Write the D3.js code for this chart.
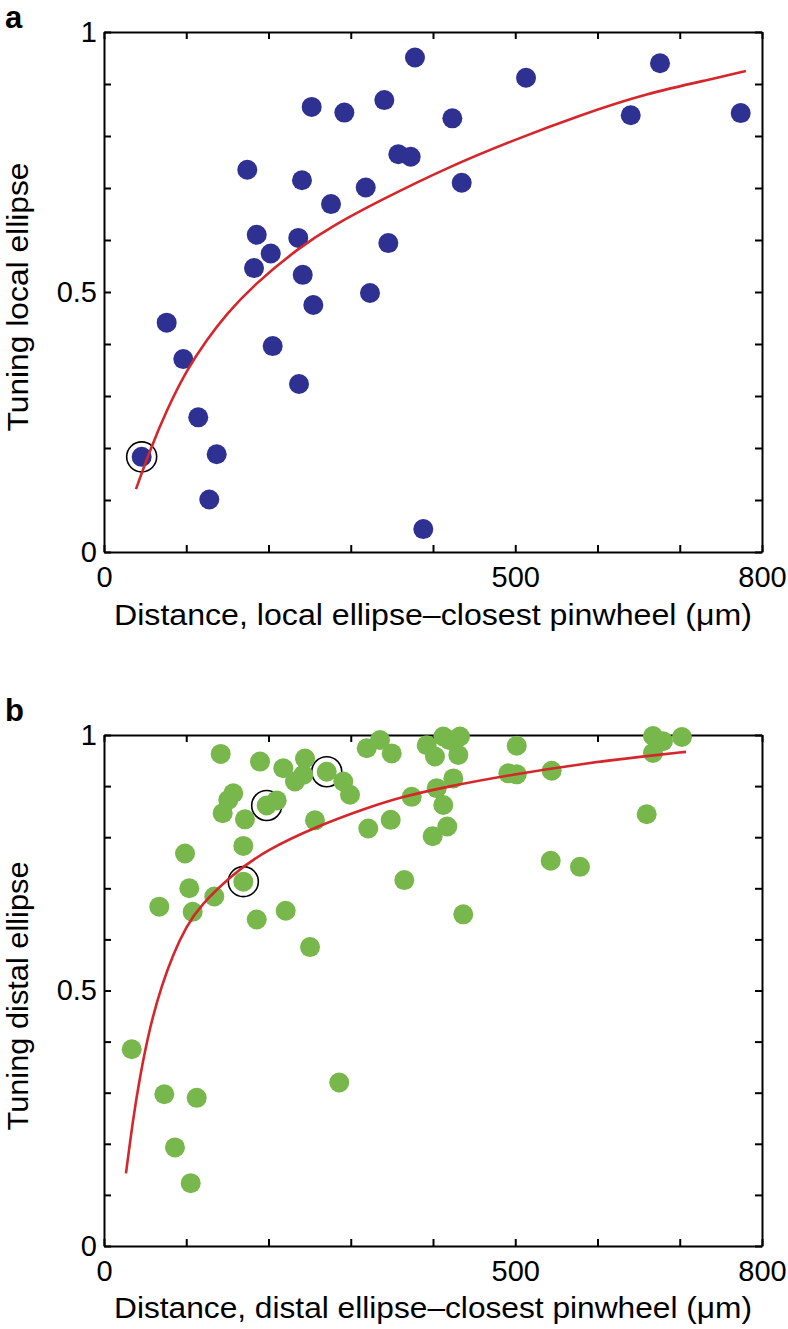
<!DOCTYPE html>
<html>
<head>
<meta charset="utf-8">
<title>Tuning vs distance to closest pinwheel</title>
<script src="https://d3js.org/d3.v7.min.js"></script>
<style>
  body { margin: 0; background: #fff; }
  text { font-family: "Liberation Sans", Arial, Helvetica, sans-serif; fill: #000; }
</style>
</head>
<body>
<script>
// panel a: local ellipse
const aDist = [45.8, 76.2, 96.4, 114.6, 137.0, 128.0, 205.1, 237.1, 252.5, 292.2, 340.8,
  357.8, 372.9, 174.2, 240.7, 318.2, 276.0, 185.7, 236.2, 202.7, 345.7, 182.4, 241.6,
  323.4, 254.5, 378.1, 513.1, 676.0, 423.5, 640.4, 774.1, 434.9, 388.2];
const aTune = [0.183, 0.441, 0.371, 0.259, 0.188, 0.101, 0.396, 0.323, 0.856, 0.845, 0.869,
  0.765, 0.760, 0.735, 0.715, 0.701, 0.669, 0.610, 0.604, 0.574, 0.594, 0.546, 0.533,
  0.498, 0.475, 0.951, 0.912, 0.940, 0.834, 0.840, 0.844, 0.710, 0.044];
const aCircled = [0];
const aFitDist = [38.9, 55.9, 76.2, 100.5, 124.9, 149.2, 181.5, 238.3, 278.8, 335.6,
  416.7, 497.6, 578.7, 659.8, 740.8, 780.5];
const aFitTune = [0.121, 0.196, 0.273, 0.350, 0.408, 0.458, 0.513, 0.587, 0.628, 0.676,
  0.739, 0.792, 0.840, 0.882, 0.910, 0.925];

// panel b: distal ellipse
const bDist = [33.7, 73.3, 112.7, 86.3, 105.4, 286.0, 67.2, 98.5, 103.7, 107.8, 134.1, 169.4,
  169.4, 185.7, 220.9, 250.5, 141.9, 189.7, 218.0, 244.4, 232.2, 242.3, 270.8, 290.9, 299.1,
  319.4, 157.2, 151.1, 144.3, 171.4, 197.8, 210.0, 256.5, 321.3, 335.6, 349.8, 392.3, 412.5,
  432.8, 402.4, 430.8, 501.8, 424.7, 404.5, 374.1, 412.5, 491.6, 501.8, 544.3, 348.6, 417.4,
  399.6, 365.1, 436.8, 543.1, 578.7, 659.8, 667.5, 679.6, 702.7, 667.5, 420.0];
const bTune = [0.385, 0.297, 0.290, 0.193, 0.123, 0.320, 0.664, 0.768, 0.700, 0.654, 0.684, 0.713,
  0.783, 0.639, 0.656, 0.585, 0.963, 0.948, 0.935, 0.954, 0.909, 0.922, 0.928, 0.909, 0.883,
  0.974, 0.886, 0.873, 0.847, 0.835, 0.862, 0.872, 0.833, 0.817, 0.990, 0.964, 0.980, 0.997,
  0.997, 0.958, 0.961, 0.979, 0.915, 0.896, 0.879, 0.863, 0.925, 0.923, 0.930, 0.834, 0.821,
  0.802, 0.716, 0.649, 0.754, 0.742, 0.845, 0.998, 0.988, 0.996, 0.965, 0.990];
const bCircled = [11, 30, 22];
const bFitDist = [26.7, 35.0, 43.8, 55.9, 70.2, 84.3, 100.0, 116.7, 157.2, 197.8, 258.6, 319.4,
  359.9, 416.7, 497.6, 578.7, 659.8, 707.6];
const bFitTune = [0.142, 0.245, 0.333, 0.430, 0.510, 0.572, 0.625, 0.666, 0.729, 0.775, 0.821,
  0.857, 0.878, 0.899, 0.923, 0.943, 0.959, 0.967];

const xTicks = [0, 100, 200, 300, 400, 500, 600, 700, 800];
const xLabels = [0, 500, 800];
const yTicks = [0, 0.1, 0.2, 0.3, 0.4, 0.5, 0.6, 0.7, 0.8, 0.9, 1];
const yLabels = [0, 0.5, 1];

const W = 788, H = 1329;
const svg = d3.select("body").append("svg")
  .attr("width", W)
  .attr("height", H);

svg.append("rect").attr("width", W).attr("height", H).attr("fill", "#fff");

function panel(opt) {
  const x = d3.scaleLinear().domain([0, 800]).range([104, 762]);
  const y = d3.scaleLinear().domain([0, 1]).range([opt.bottom, opt.top]);
  const g = svg.append("g");

  const fmtX = d => xLabels.includes(d) ? d : "";
  const fmtY = d => yLabels.includes(d) ? d3.format("~g")(d) : "";

  g.append("g")
    .attr("transform", "translate(0," + opt.bottom + ")")
    .call(d3.axisBottom(x).tickValues(xTicks).tickSizeInner(-7).tickSizeOuter(0)
      .tickPadding(14).tickFormat(fmtX));
  g.append("g")
    .attr("transform", "translate(0," + opt.top + ")")
    .call(d3.axisTop(x).tickValues(xTicks).tickSizeInner(-7).tickSizeOuter(0).tickFormat(""));
  g.append("g")
    .attr("transform", "translate(104,0)")
    .call(d3.axisLeft(y).tickValues(yTicks).tickSizeInner(-7).tickSizeOuter(0)
      .tickPadding(7).tickFormat(fmtY));
  g.append("g")
    .attr("transform", "translate(762,0)")
    .call(d3.axisRight(y).tickValues(yTicks).tickSizeInner(-7).tickSizeOuter(0).tickFormat(""));

  g.selectAll(".domain").attr("stroke", "#000").attr("stroke-width", 2);
  g.selectAll(".tick line").attr("stroke", "#000").attr("stroke-width", 2);
  g.selectAll(".tick text")
    .style("font-family", "'Liberation Sans', Arial, sans-serif")
    .style("font-size", "29px")
    .attr("fill", "#000");

  // panel letter and axis titles
  svg.append("text")
    .attr("x", 5)
    .attr("y", opt.letterY)
    .style("font-size", "31px")
    .style("font-weight", "bold")
    .text(opt.letter);

  svg.append("text")
    .attr("x", 433)
    .attr("y", opt.xTitleY)
    .attr("text-anchor", "middle")
    .attr("textLength", 638)
    .attr("lengthAdjust", "spacingAndGlyphs")
    .style("font-size", "29px")
    .text(opt.xTitle);

  svg.append("text")
    .attr("transform", "translate(28," + opt.yTitleMid + ") rotate(-90)")
    .attr("text-anchor", "middle")
    .attr("textLength", 269)
    .attr("lengthAdjust", "spacingAndGlyphs")
    .style("font-size", "30px")
    .text(opt.yTitle);

  const pts = opt.dist.map((d, i) => ({ d: d, t: opt.tune[i], i: i }));

  g.selectAll("circle.ring")
    .data(pts.filter(p => opt.circled.includes(p.i)))
    .enter().append("circle")
    .attr("class", "ring")
    .attr("cx", p => x(p.d))
    .attr("cy", p => y(p.t))
    .attr("r", 15)
    .attr("fill", "#fff")
    .attr("stroke", "#000")
    .attr("stroke-width", 1.6);

  g.selectAll("circle.dot")
    .data(pts)
    .enter().append("circle")
    .attr("class", "dot")
    .attr("cx", p => x(p.d))
    .attr("cy", p => y(p.t))
    .attr("r", 10)
    .attr("fill", opt.color);

  const fit = opt.fitDist.map((d, i) => [d, opt.fitTune[i]]);
  g.append("path")
    .datum(fit)
    .attr("fill", "none")
    .attr("stroke", "#d4262b")
    .attr("stroke-width", 2.6)
    .attr("d", d3.line().x(p => x(p[0])).y(p => y(p[1])).curve(d3.curveBasis));
}

panel({
  letter: "a", letterY: 28, top: 32, bottom: 552, color: "#2e3192",
  dist: aDist, tune: aTune, circled: aCircled, fitDist: aFitDist, fitTune: aFitTune,
  xTitle: "Distance, local ellipse\u2013closest pinwheel (\u03bcm)", xTitleY: 625,
  yTitle: "Tuning local ellipse", yTitleMid: 297
});

panel({
  letter: "b", letterY: 721, top: 735, bottom: 1246, color: "#78b74b",
  dist: bDist, tune: bTune, circled: bCircled, fitDist: bFitDist, fitTune: bFitTune,
  xTitle: "Distance, distal ellipse\u2013closest pinwheel (\u03bcm)", xTitleY: 1318,
  yTitle: "Tuning distal ellipse", yTitleMid: 996
});
</script>
</body>
</html>
